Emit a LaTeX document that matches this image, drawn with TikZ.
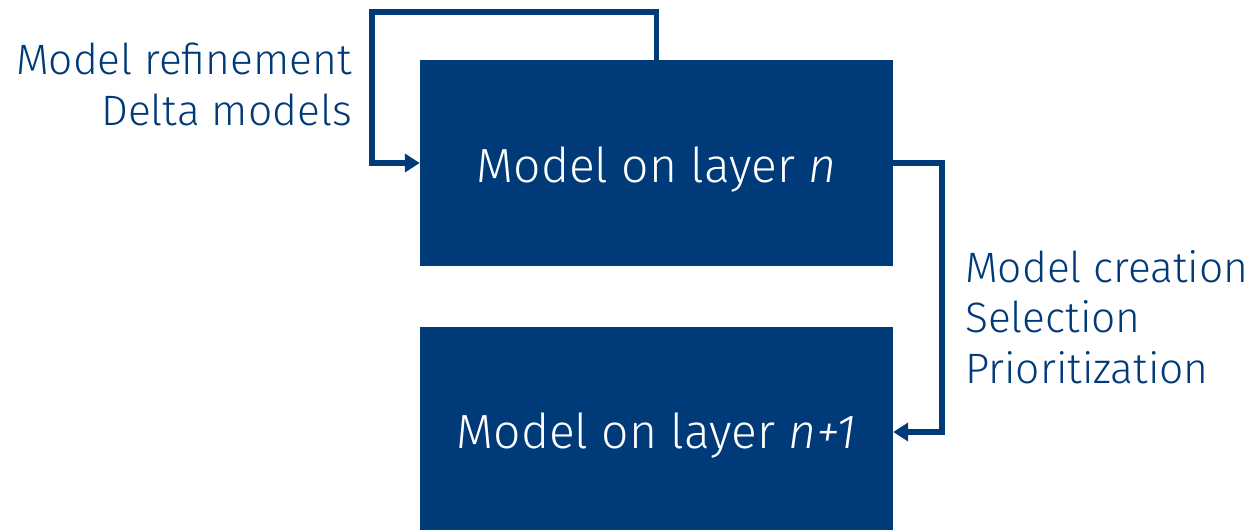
\documentclass[tikz,border=0pt]{standalone}
\usepackage{fontspec}
\setmainfont{Fira Sans Light}
\usetikzlibrary{arrows.meta}
\definecolor{navy}{HTML}{003A79}
\tikzset{
  layerbox/.style={fill=navy, draw=none, text=white, inner sep=0pt},
  conn/.style={draw=navy, line width=5.5pt, -{Triangle[length=15pt,width=18pt]}},
  sidelabel/.style={text=navy, font=\fontsize{42.5}{50.5}\selectfont, inner sep=0pt},
  boxtext/.style={font=\fontsize{48}{56}\selectfont, text=white, inner sep=0pt}
}
\begin{document}
\begin{tikzpicture}[x=1pt,y=-1pt]
\useasboundingbox (0,0) rectangle (1253,530);
\node[layerbox, minimum width=473pt, minimum height=206pt] (top) at (656.5,163) {};
\node[layerbox, minimum width=473pt, minimum height=203pt] (bot) at (656.5,428.5) {};
\node[boxtext, anchor=base] (ttop) at (656.5,182) {Model on layer \textit{n}};
\node[boxtext, anchor=base] (tbot) at (656.5,448) {Model on layer \textit{n+1}};
\coordinate (lp) at (372,12);
\coordinate (rc) at (942,432);
\draw[conn] (top.north) |- (lp) |- (top.west);
\draw[conn] (top.east) -| (rc) -- (bot.east |- rc);
\node[sidelabel, anchor=base east, align=right] (left) at (352,125) {Model refinement\\Delta models};
\node[sidelabel, anchor=base west, align=left] (right) at (965,383) {Model creation\\Selection\\Prioritization};
\end{tikzpicture}
\end{document}
